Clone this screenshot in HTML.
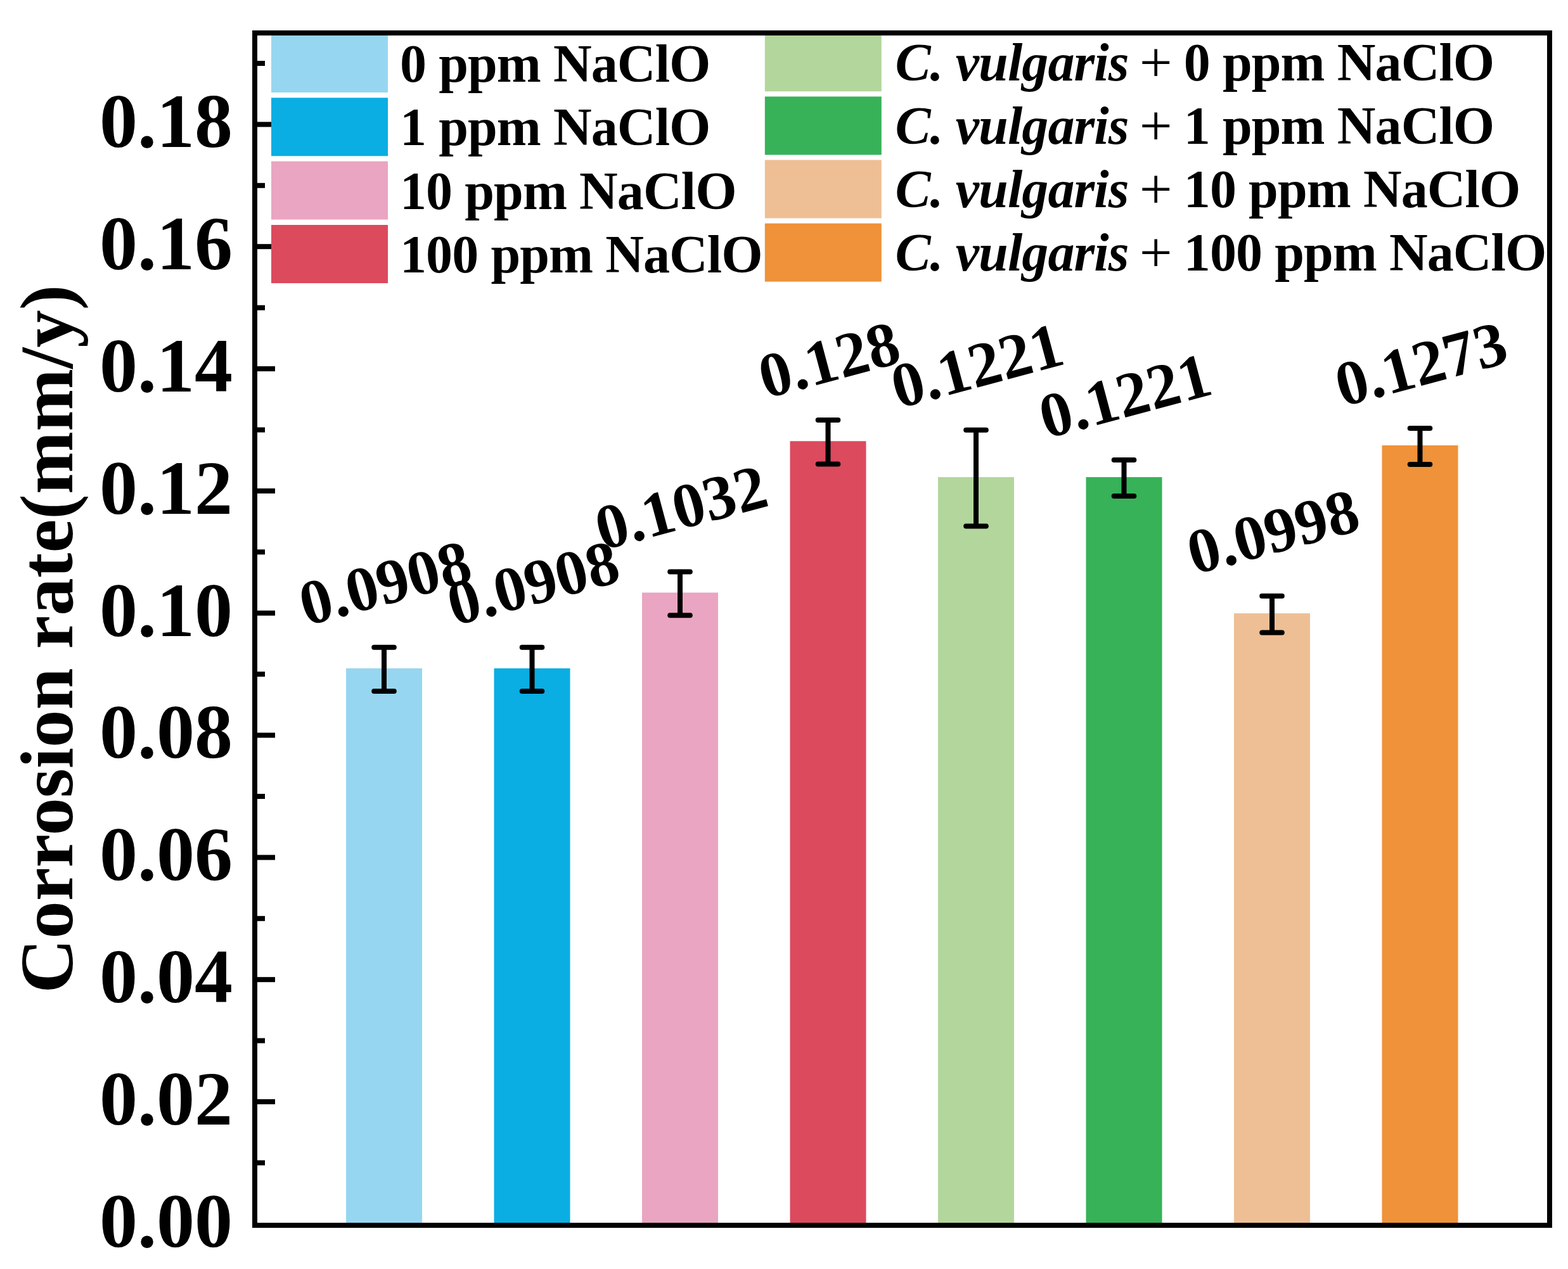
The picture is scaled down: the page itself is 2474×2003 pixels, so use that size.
<!DOCTYPE html><html><head><meta charset="utf-8"><title>Corrosion rate</title>
<style>html,body{margin:0;padding:0;background:#fff;overflow:hidden}svg{display:block}text{font-family:"Liberation Serif","Times New Roman",serif;font-weight:bold}</style></head><body>
<svg width="2474" height="2003" viewBox="0 0 2474 2003">
<rect width="2474" height="2003" fill="#fff"/>
<rect x="546.0" y="1054.9" width="120.0" height="877.1" fill="#97d6f1"/>
<rect x="779.5" y="1054.9" width="120.0" height="877.1" fill="#0aaee3"/>
<rect x="1013.0" y="935.4" width="120.0" height="996.6" fill="#e9a5c1"/>
<rect x="1246.5" y="696.3" width="120.0" height="1235.7" fill="#dc4a5e"/>
<rect x="1480.0" y="753.1" width="120.0" height="1178.9" fill="#b3d69c"/>
<rect x="1713.5" y="753.1" width="120.0" height="1178.9" fill="#37b259"/>
<rect x="1947.0" y="968.1" width="120.0" height="963.9" fill="#eebf94"/>
<rect x="2180.5" y="703.0" width="120.0" height="1229.0" fill="#ef9239"/>
<g stroke="#000" stroke-width="8" fill="none">
<line x1="606.0" y1="1021.7" x2="606.0" y2="1091.1"/>
<line x1="590.2" y1="1021.7" x2="621.8" y2="1021.7" stroke-linecap="round"/>
<line x1="590.2" y1="1091.1" x2="621.8" y2="1091.1" stroke-linecap="round"/>
<line x1="839.5" y1="1021.7" x2="839.5" y2="1091.1"/>
<line x1="823.7" y1="1021.7" x2="855.3" y2="1021.7" stroke-linecap="round"/>
<line x1="823.7" y1="1091.1" x2="855.3" y2="1091.1" stroke-linecap="round"/>
<line x1="1073.0" y1="902.5" x2="1073.0" y2="971.3"/>
<line x1="1057.2" y1="902.5" x2="1088.8" y2="902.5" stroke-linecap="round"/>
<line x1="1057.2" y1="971.3" x2="1088.8" y2="971.3" stroke-linecap="round"/>
<line x1="1306.5" y1="663.1" x2="1306.5" y2="732.5"/>
<line x1="1290.7" y1="663.1" x2="1322.3" y2="663.1" stroke-linecap="round"/>
<line x1="1290.7" y1="732.5" x2="1322.3" y2="732.5" stroke-linecap="round"/>
<line x1="1540.0" y1="678.7" x2="1540.0" y2="830.5"/>
<line x1="1524.2" y1="678.7" x2="1555.8" y2="678.7" stroke-linecap="round"/>
<line x1="1524.2" y1="830.5" x2="1555.8" y2="830.5" stroke-linecap="round"/>
<line x1="1773.5" y1="726.1" x2="1773.5" y2="783.1"/>
<line x1="1757.7" y1="726.1" x2="1789.3" y2="726.1" stroke-linecap="round"/>
<line x1="1757.7" y1="783.1" x2="1789.3" y2="783.1" stroke-linecap="round"/>
<line x1="2007.0" y1="940.8" x2="2007.0" y2="998.4"/>
<line x1="1991.2" y1="940.8" x2="2022.8" y2="940.8" stroke-linecap="round"/>
<line x1="1991.2" y1="998.4" x2="2022.8" y2="998.4" stroke-linecap="round"/>
<line x1="2240.5" y1="676.0" x2="2240.5" y2="733.0"/>
<line x1="2224.7" y1="676.0" x2="2256.3" y2="676.0" stroke-linecap="round"/>
<line x1="2224.7" y1="733.0" x2="2256.3" y2="733.0" stroke-linecap="round"/>
</g>
<g stroke="#000" stroke-width="8">
<line x1="406" y1="1835.4" x2="418" y2="1835.4"/>
<line x1="406" y1="1739.0" x2="434" y2="1739.0"/>
<line x1="406" y1="1642.6" x2="418" y2="1642.6"/>
<line x1="406" y1="1546.2" x2="434" y2="1546.2"/>
<line x1="406" y1="1449.8" x2="418" y2="1449.8"/>
<line x1="406" y1="1353.4" x2="434" y2="1353.4"/>
<line x1="406" y1="1257.0" x2="418" y2="1257.0"/>
<line x1="406" y1="1160.5" x2="434" y2="1160.5"/>
<line x1="406" y1="1064.1" x2="418" y2="1064.1"/>
<line x1="406" y1="967.7" x2="434" y2="967.7"/>
<line x1="406" y1="871.3" x2="418" y2="871.3"/>
<line x1="406" y1="774.9" x2="434" y2="774.9"/>
<line x1="406" y1="678.5" x2="418" y2="678.5"/>
<line x1="406" y1="582.1" x2="434" y2="582.1"/>
<line x1="406" y1="485.7" x2="418" y2="485.7"/>
<line x1="406" y1="389.2" x2="434" y2="389.2"/>
<line x1="406" y1="292.8" x2="418" y2="292.8"/>
<line x1="406" y1="196.4" x2="434" y2="196.4"/>
<line x1="406" y1="100.0" x2="418" y2="100.0"/>
</g>
<g font-size="120" text-anchor="end">
<text x="367" y="1967.8">0.00</text>
<text x="367" y="1774.9">0.02</text>
<text x="367" y="1582.1">0.04</text>
<text x="367" y="1389.3">0.06</text>
<text x="367" y="1196.4">0.08</text>
<text x="367" y="1003.6">0.10</text>
<text x="367" y="810.8">0.12</text>
<text x="367" y="618.0">0.14</text>
<text x="367" y="425.1">0.16</text>
<text x="367" y="232.3">0.18</text>
</g>
<text transform="translate(114,1567.7) rotate(-90)" font-size="119">Corrosion rate(mm/y)</text>
<rect x="428" y="54" width="184" height="92" fill="#97d6f1"/>
<text x="631.0" y="129.0" font-size="84" letter-spacing="-0.9">0 ppm NaClO</text>
<rect x="1206.8" y="52.3" width="184" height="92" fill="#b3d69c"/>
<text x="1412.4" y="126.9" font-size="84" letter-spacing="-0.9"><tspan font-style="italic">C. vulgaris</tspan> <tspan font-weight="normal" font-size="92" dx="-3" dy="2">+</tspan><tspan dx="-1" dy="-2"> 0 ppm NaClO</tspan></text>
<rect x="428" y="154.3" width="184" height="92" fill="#0aaee3"/>
<text x="631.0" y="229.3" font-size="84" letter-spacing="-0.9">1 ppm NaClO</text>
<rect x="1206.8" y="152.4" width="184" height="92" fill="#37b259"/>
<text x="1412.4" y="227.0" font-size="84" letter-spacing="-0.9"><tspan font-style="italic">C. vulgaris</tspan> <tspan font-weight="normal" font-size="92" dx="-3" dy="2">+</tspan><tspan dx="-1" dy="-2"> 1 ppm NaClO</tspan></text>
<rect x="428" y="254.6" width="184" height="92" fill="#e9a5c1"/>
<text x="631.0" y="329.6" font-size="84" letter-spacing="-0.9">10 ppm NaClO</text>
<rect x="1206.8" y="252.5" width="184" height="92" fill="#eebf94"/>
<text x="1412.4" y="327.1" font-size="84" letter-spacing="-0.9"><tspan font-style="italic">C. vulgaris</tspan> <tspan font-weight="normal" font-size="92" dx="-3" dy="2">+</tspan><tspan dx="-1" dy="-2"> 10 ppm NaClO</tspan></text>
<rect x="428" y="355" width="184" height="92" fill="#dc4a5e"/>
<text x="631.0" y="430.0" font-size="84" letter-spacing="-0.9">100 ppm NaClO</text>
<rect x="1206.8" y="352.6" width="184" height="92" fill="#ef9239"/>
<text x="1412.4" y="427.2" font-size="84" letter-spacing="-0.9"><tspan font-style="italic">C. vulgaris</tspan> <tspan font-weight="normal" font-size="92" dx="-3" dy="2">+</tspan><tspan dx="-1" dy="-2"> 100 ppm NaClO</tspan></text>
<rect x="402" y="52" width="2043" height="1882" fill="none" stroke="#000" stroke-width="8"/>
<text transform="translate(483.3,988.0) rotate(-15)" font-size="100">0.0908</text>
<text transform="translate(716.8,988.0) rotate(-15)" font-size="100">0.0908</text>
<text transform="translate(950.3,868.7) rotate(-15)" font-size="100">0.1032</text>
<text transform="translate(1207.9,629.3) rotate(-15)" font-size="100">0.128</text>
<text transform="translate(1417.3,645.0) rotate(-15)" font-size="100">0.1221</text>
<text transform="translate(1650.8,692.4) rotate(-15)" font-size="100">0.1221</text>
<text transform="translate(1884.3,907.1) rotate(-15)" font-size="100">0.0998</text>
<text transform="translate(2117.8,642.3) rotate(-15)" font-size="100">0.1273</text>
</svg></body></html>
